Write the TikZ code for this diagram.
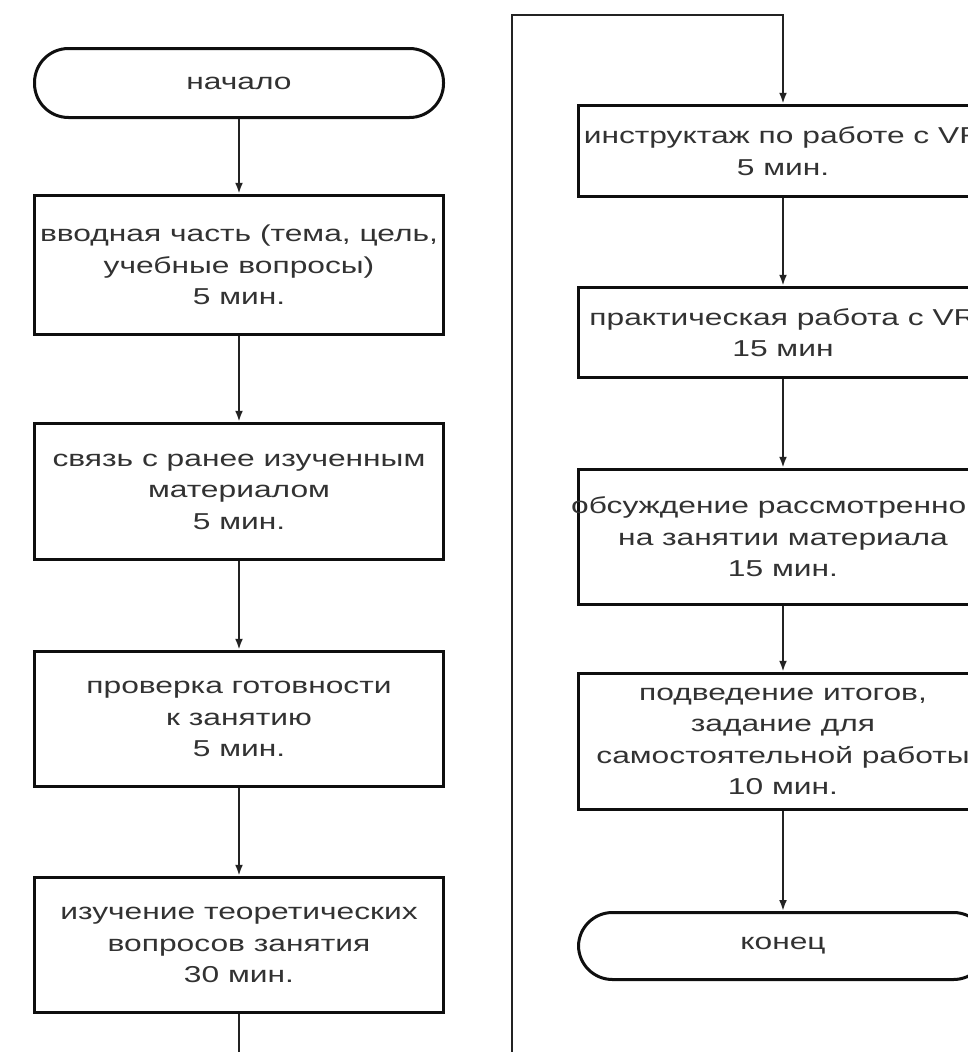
\documentclass[tikz,border=0pt]{standalone}
\usepackage{fontspec}
\setmainfont{Liberation Sans}[FakeStretch=1.38]
\usetikzlibrary{arrows.meta}
\definecolor{ink}{RGB}{15,15,15}
\definecolor{txtc}{RGB}{50,50,50}
\definecolor{linec}{RGB}{35,35,35}
\begin{document}
\begin{tikzpicture}[x=1pt,y=-1pt,
  procbox/.style={draw=ink, line width=3.5pt, rectangle, minimum width=409pt, inner sep=0pt},
  termbox/.style={draw=ink, line width=3pt, rectangle, minimum width=409pt, minimum height=69pt, rounded corners=34pt, inner sep=0pt},
  lbl/.style={text=txtc, font=\fontsize{23}{31.5}\selectfont, align=center, inner sep=0pt},
  flow/.style={draw=linec, line width=2.5pt, -{Latex[length=11pt,width=8pt]}}]
\useasboundingbox (0,0) rectangle (968,1052);
\begin{scope}
\clip (0,0) rectangle (968,1052);
% left column
\node[termbox] (start) at (239,83) {};
\node[procbox, minimum height=139pt] (b1) at (239,265) {};
\node[procbox, minimum height=136pt] (b2) at (239,491.5) {};
\node[procbox, minimum height=135pt] (b3) at (239,719) {};
\node[procbox, minimum height=135pt] (b4) at (239,945) {};
% right column
\node[procbox, minimum height=91pt] (r1) at (783,151) {};
\node[procbox, minimum height=90pt] (r2) at (783,332.5) {};
\node[procbox, minimum height=135pt] (r3) at (783,537) {};
\node[procbox, minimum height=136pt] (r4) at (783,741.5) {};
\node[termbox, minimum height=67pt] (finish) at (783,946) {};
% texts
\node[lbl] (tstart) at (start) {начало};
\node[lbl] (tb1) at (b1) {вводная часть (тема, цель,\\учебные вопросы)\\5 мин.};
\node[lbl] (tb2) at (b2) {связь с ранее изученным\\материалом\\5 мин.};
\node[lbl] (tb3) at (b3) {проверка готовности\\к занятию\\5 мин.};
\node[lbl] (tb4) at (b4) {изучение теоретических\\вопросов занятия\\30 мин.};
\node[lbl] (tr1) at (r1) {инструктаж по работе с VR\\5 мин.};
\node[lbl] (tr2) at (r2) {практическая работа с VR\\15 мин};
\node[lbl] (tr3) at (r3) {обсуждение рассмотренного\\на занятии материала\\15 мин.};
\node[lbl] (tr4) at (r4) {подведение итогов,\\задание для\\самостоятельной работы\\10 мин.};
\node[lbl] (tfinish) at (finish) {конец};
% connectors
\draw[flow] (start.south) -- (b1.north);
\draw[flow] (b1.south) -- (b2.north);
\draw[flow] (b2.south) -- (b3.north);
\draw[flow] (b3.south) -- (b4.north);
\coordinate (cBotL) at (239,1090);
\coordinate (cBotR) at (512,1090);
\coordinate (cTopL) at (512,15);
\coordinate (cTopR) at (783,15);
\draw[flow] (b4.south) -- (cBotL) -- (cBotR) -- (cTopL) -- (cTopR) -- (r1.north);
\draw[flow] (r1.south) -- (r2.north);
\draw[flow] (r2.south) -- (r3.north);
\draw[flow] (r3.south) -- (r4.north);
\draw[flow] (r4.south) -- (finish.north);
\end{scope}
\end{tikzpicture}
\end{document}
